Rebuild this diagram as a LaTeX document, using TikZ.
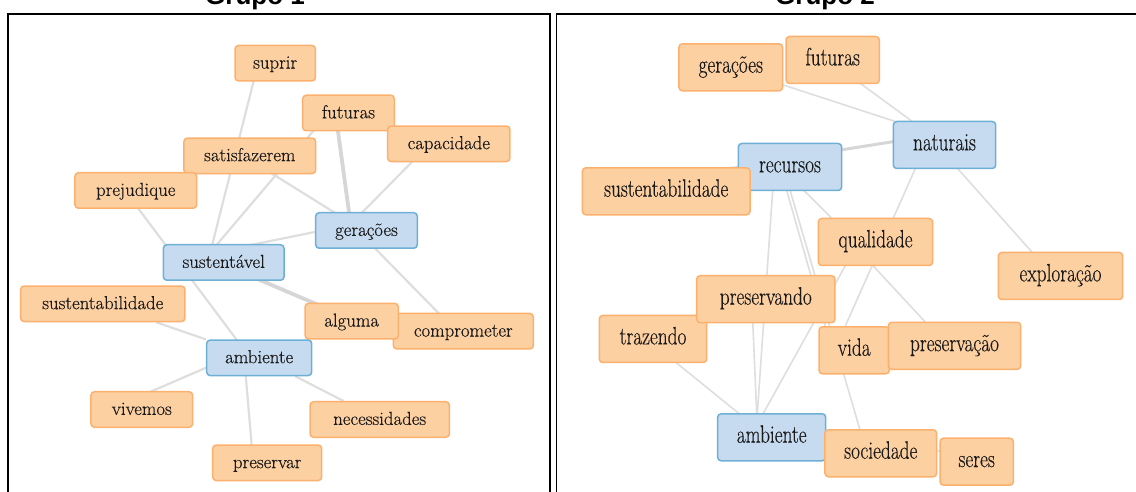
\documentclass[tikz,border=0pt]{standalone}
\usepackage{fontspec}
\usepackage{graphicx}
\newfontfamily\titlefont{Liberation Sans}
\newfontfamily\wordfont{Latin Modern Roman}[FakeBold=0.35]
\usetikzlibrary{calc,backgrounds}

\definecolor{peach}{RGB}{253,208,162}
\definecolor{peachline}{RGB}{252,176,110}
\definecolor{skyfill}{RGB}{198,219,239}
\definecolor{skyline}{RGB}{110,175,214}
\definecolor{linkgray}{RGB}{222,222,222}
\definecolor{heavygray}{RGB}{214,214,214}
\definecolor{inkgray}{RGB}{25,25,25}

% words of the second network are set taller than wide
\newcommand{\tallword}[1]{\scalebox{1}[1.3]{#1}}

\begin{document}
\begin{tikzpicture}[x=1bp,y=-1bp,
  word/.style={rectangle, rounded corners=3.5bp, line width=1.5bp,
               inner xsep=0pt, inner ysep=0pt, text=inkgray},
  wordL/.style={word, minimum height=35.5bp, text height=11.5bp, text depth=0.8bp,
                font=\wordfont\fontsize{18.8bp}{22bp}\selectfont},
  wordR/.style={word, minimum height=47bp, text height=12bp, text depth=1.3bp,
                font=\wordfont\fontsize{19.3bp}{22bp}\selectfont},
  hot/.style={fill=peach, draw=peachline},
  cool/.style={fill=skyfill, draw=skyline},
  linkL/.style={draw=linkgray, line width=2.2bp},
  heavyL/.style={draw=heavygray, line width=3.8bp},
  linkR/.style={draw=linkgray, line width=1.6bp},
  heavyR/.style={draw=heavygray, line width=3bp},
  panel/.style={draw=black, line width=1.8bp},
  grouptitle/.style={anchor=base, inner sep=0pt,
                     font=\titlefont\bfseries\fontsize{26bp}{30bp}\selectfont}
]
\useasboundingbox (0,0) rectangle (1136,492);

% panel titles and frames
\node[grouptitle] (t1) at (255,5) {Grupo 1};
\node[grouptitle] (t2) at (825,5) {Grupo 2};
\draw[panel] (8,520) -- (8,14) -- (550,14) -- (550,520);
\draw[panel] (556.5,520) -- (556.5,14) -- (1150,14);

% ---------- Grupo 1 ----------
\node[wordL,hot,minimum width=80.4bp]  (l-suprir)  at (275.2,63.2)  {suprir};
\node[wordL,hot,minimum width=91.6bp]  (l-futuras) at (348.5,113)   {futuras};
\node[wordL,hot,minimum width=122.3bp] (l-capac)   at (448.8,143.8) {capacidade};
\node[wordL,hot,minimum width=131.7bp] (l-satisf)  at (249.8,155.8) {satisfazerem};
\node[wordL,hot,minimum width=121.7bp] (l-prejud)  at (135.8,190.5) {prejudique};
\node[wordL,cool,minimum width=101.6bp] (l-ger)    at (366.5,230.5) {gerações};
\node[wordL,cool,minimum width=120.7bp] (l-sust)   at (223.7,262.5) {sustentável};
\node[wordL,hot,minimum width=164.3bp] (l-sustb)   at (102.8,303.8) {sustentabilidade};
\node[wordL,hot,minimum width=140bp]   (l-compr)   at (463.3,331.2) {comprometer};
\node[wordL,hot,minimum width=93.3bp]  (l-alguma)  at (351.7,321.2) {alguma};
\node[wordL,cool,minimum width=105bp]  (l-amb)     at (259.2,357.8) {ambiente};
\node[wordL,hot,minimum width=101.7bp] (l-vivemos) at (141.8,409.5) {vivemos};
\node[wordL,hot,minimum width=139.3bp] (l-necess)  at (379.7,419.5) {necessidades};
\node[wordL,hot,minimum width=109bp]   (l-preserv) at (267.2,462.8) {preservar};

% ---------- Grupo 2 ----------
\node[wordR,hot,minimum width=103.7bp]  (r-ger)    at (730.8,67.3)  {\tallword{gerações}};
\node[wordR,hot,minimum width=93.3bp]   (r-fut)    at (832.7,60)    {\tallword{futuras}};
\node[wordR,cool,minimum width=102.4bp] (r-nat)    at (944.5,145)   {\tallword{naturais}};
\node[wordR,cool,minimum width=103.4bp] (r-rec)    at (790,167)     {\tallword{recursos}};
\node[wordR,hot,minimum width=167.7bp]  (r-sustb)  at (666.2,191.3) {\tallword{sustentabilidade}};
\node[wordR,hot,minimum width=114.4bp]  (r-qual)   at (875.5,242)   {\tallword{qualidade}};
\node[wordR,hot,minimum width=124.4bp]  (r-explor) at (1060.5,276)  {\tallword{exploração}};
\node[wordR,hot,minimum width=107.4bp]  (r-traz)   at (653,339)     {\tallword{trazendo}};
\node[wordR,hot,minimum width=138.3bp]  (r-presv)  at (765.8,299.2) {\tallword{preservando}};
\node[wordR,hot,minimum width=70.3bp]   (r-vida)   at (854.2,350.3) {\tallword{vida}};
\node[wordR,hot,minimum width=132.4bp]  (r-presc)  at (954.5,345.8) {\tallword{preservação}};
\node[wordR,cool,minimum width=108bp]   (r-amb)    at (771.7,437.3) {\tallword{ambiente}};
\node[wordR,hot,minimum width=111.7bp]  (r-soc)    at (880.8,453.3) {\tallword{sociedade}};
\node[wordR,hot,minimum width=73.3bp]   (r-seres)  at (976.7,461.7) {\tallword{seres}};

% ---------- links, behind the words ----------
\begin{pgfonlayer}{background}
  % Grupo 1
  \draw[linkL]  ($(l-suprir)+(-17,0)$)  -- ($(l-sust)+(-16,0)$);
  \draw[linkL]  ($(l-futuras)+(-20,0)$) -- ($(l-sust)+(-22,0)$);
  \draw[heavyL] ($(l-futuras)+(-13,0)$) -- ($(l-ger)+(-15,0)$);
  \draw[linkL]  ($(l-capac)+(-19,0)$)   -- ($(l-ger)+(-22,0)$);
  \draw[linkL]  ($(l-satisf)+(0,4)$)    -- ($(l-ger)+(0,2)$);
  \draw[linkL]  ($(l-prejud)+(-11,0)$)  -- ($(l-amb)+(-9,0)$);
  \draw[linkL]  ($(l-ger)+(0,-9)$)      -- ($(l-sust)+(0,-12)$);
  \draw[heavyL] ($(l-sust)+(0,2)$)      -- ($(l-alguma)+(0,-2)$);
  \draw[linkL]  ($(l-ger)+(-9,0)$)      -- ($(l-compr)+(-7,0)$);
  \draw[linkL]  (l-sustb)               -- (l-amb);
  \draw[linkL]  ($(l-vivemos)+(0,-14)$) -- ($(l-amb)+(0,-13)$);
  \draw[linkL]  ($(l-amb)+(-15,0)$)     -- ($(l-preserv)+(-14,0)$);
  \draw[linkL]  (l-amb)                 -- (l-necess);
  % Grupo 2
  \draw[linkR]  ($(r-ger)+(0,0.6)$)     -- ($(r-nat)+(0,-7.5)$);
  \draw[linkR]  ($(r-fut)+(-4.4,0)$)    -- (r-nat);
  \draw[heavyR] ($(r-rec)+(0,-9)$)      -- ($(r-nat)+(0,-11.5)$);
  \draw[linkR]  ($(r-sustb)+(40,-22)$)  -- ($(r-rec)+(0,-4)$);
  \draw[linkR]  ($(r-rec)+(-15.7,0)$)   -- ($(r-amb)+(-16,0)$);
  \draw[linkR]  ($(r-presv)+(-14,0)$)   -- ($(r-amb)+(-14,0)$);
  \draw[linkR]  ($(r-qual)+(-17,0)$)    -- ($(r-amb)+(-21.7,0)$);
  \draw[linkR]  ($(r-rec)+(-10,0)$)     -- ($(r-vida)+(-22,0)$);
  \draw[linkR]  ($(r-rec)+(-6.7,0)$)    -- ($(r-soc)+(-14,0)$);
  \draw[linkR]  ($(r-rec)+(-9.7,0)$)    -- ($(r-qual)+(-20,0)$);
  \draw[linkR]  ($(r-nat)+(-18.7,0)$)   -- ($(r-vida)+(-19.7,0)$);
  \draw[linkR]  ($(r-qual)+(-24.4,0)$)  -- ($(r-presc)+(-7.2,0)$);
  \draw[linkR]  ($(r-nat)+(-7.8,0)$)    -- ($(r-explor)+(-7.3,0)$);
  \draw[linkR]  ($(r-traz)+(-6,0)$)     -- ($(r-amb)+(-3.4,0)$);
  \draw[linkR]  ($(r-soc)+(0,-4)$)      -- ($(r-seres)+(0,-10)$);
\end{pgfonlayer}
\end{tikzpicture}
\end{document}
